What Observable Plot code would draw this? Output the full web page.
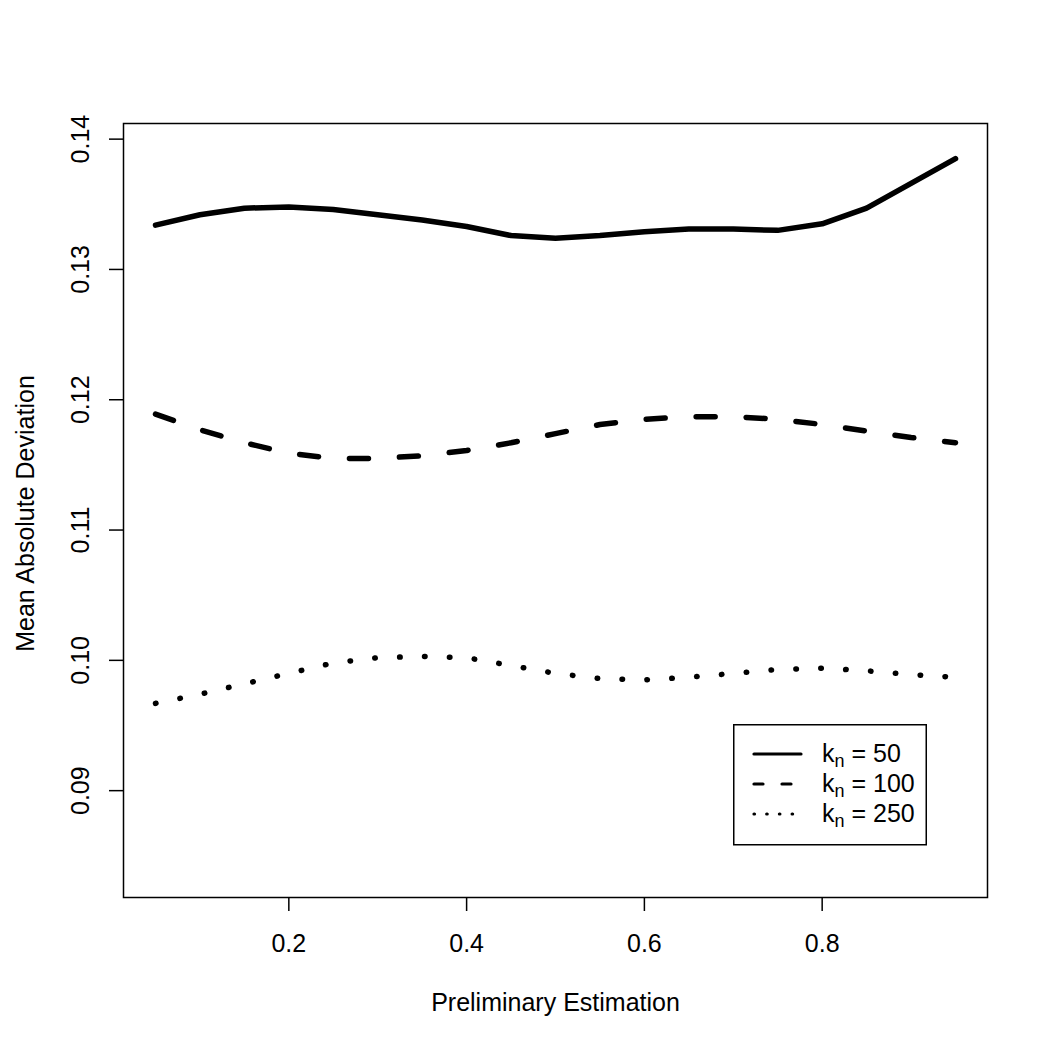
<!DOCTYPE html>
<html>
<head>
<meta charset="utf-8">
<script src="https://cdn.jsdelivr.net/npm/d3@7"></script>
<script src="https://cdn.jsdelivr.net/npm/@observablehq/plot@0.6"></script>
<style>
  html, body { margin: 0; padding: 0; background: #fff; }
  #wrap { position: relative; width: 1050px; height: 1050px; font-family: "Liberation Sans", Arial, Helvetica, sans-serif; }
  #legend { position: absolute; left: 733px; top: 724px; }
</style>
</head>
<body>
<div id="wrap"></div>
<script>
// Preliminary estimation grid
const estimation = [0.05, 0.10, 0.15, 0.20, 0.25, 0.30, 0.35, 0.40, 0.45, 0.50,
                    0.55, 0.60, 0.65, 0.70, 0.75, 0.80, 0.85, 0.90, 0.95];

// Mean absolute deviation for each k_n
const mad50  = [0.1334, 0.1342, 0.1347, 0.1348, 0.1346, 0.1342, 0.1338, 0.1333, 0.1326, 0.1324,
                0.1326, 0.1329, 0.1331, 0.1331, 0.1330, 0.1335, 0.1347, 0.1366, 0.1385];
const mad100 = [0.1189, 0.1177, 0.1167, 0.1159, 0.1155, 0.1155, 0.1157, 0.1161, 0.1167, 0.1174,
                0.1181, 0.1185, 0.1187, 0.1187, 0.1185, 0.1181, 0.1176, 0.1171, 0.1167];
const mad250 = [0.0967, 0.0974, 0.0982, 0.0990, 0.0998, 0.1002, 0.1003, 0.1002, 0.0996, 0.0990,
                0.0986, 0.0985, 0.0987, 0.0990, 0.0993, 0.0994, 0.0992, 0.0989, 0.0987];

const seriesNames = ["50", "100", "250"];
const xTicks = [0.2, 0.4, 0.6, 0.8];
const yTicks = [0.09, 0.10, 0.11, 0.12, 0.13, 0.14];
const xTitle = "Preliminary Estimation";
const yTitle = "Mean Absolute Deviation";

const font = '"Liberation Sans", Arial, Helvetica, sans-serif';
const fs = 25;

const toRows = (vals, k) => estimation.map((x, i) => ({x, y: vals[i], k}));
const rows50 = toRows(mad50, seriesNames[0]);
const rows100 = toRows(mad100, seriesNames[1]);
const rows250 = toRows(mad250, seriesNames[2]);

const lineBase = {x: "x", y: "y", stroke: "black", strokeWidth: 5.5,
                  strokeLinecap: "round", strokeLinejoin: "round"};

const chart = Plot.plot({
  width: 1050,
  height: 1050,
  marginLeft: 123,
  marginRight: 63,
  marginTop: 123,
  marginBottom: 153,
  style: {fontFamily: font, fontSize: fs + "px", color: "black", background: "white"},
  x: {domain: [0.014, 0.986]},
  y: {domain: [0.0818, 0.1412]},
  marks: [
    Plot.frame({stroke: "black", strokeWidth: 1.5}),
    Plot.axisX({ticks: xTicks, tickSize: 14, tickPadding: 23, tickFormat: d => d3.format(".1f")(d),
                fontSize: fs, label: null, strokeWidth: 1.5}),
    Plot.axisY({ticks: yTicks, tickSize: 14, tickFormat: () => "", label: null, strokeWidth: 1.5}),
    Plot.text(yTicks, {y: d => d, frameAnchor: "left", textAnchor: "middle", dx: -43, rotate: -90,
                       text: d => d3.format(".2f")(d), fontSize: fs, fill: "black"}),
    Plot.text([xTitle], {frameAnchor: "bottom", textAnchor: "middle", dy: 113, text: d => d,
                         fontSize: fs, fill: "black"}),
    Plot.text([yTitle], {frameAnchor: "left", textAnchor: "middle", dx: -98, dy: 3, rotate: -90, text: d => d,
                         fontSize: fs, fill: "black"}),
    Plot.line(rows50, {...lineBase}),
    Plot.line(rows100, {...lineBase, strokeDasharray: "19,31"}),
    Plot.line(rows250, {...lineBase, strokeDasharray: "0.5,24.4"})
  ]
});

const wrap = document.getElementById("wrap");
wrap.appendChild(chart);

// Legend box inside the plotting region
const legendStyles = [
  {dash: null},
  {dash: "9,19"},
  {dash: "0.5,12.2"}
];
const ns = "http://www.w3.org/2000/svg";
const leg = document.createElementNS(ns, "svg");
leg.setAttribute("id", "legend");
leg.setAttribute("width", 194);
leg.setAttribute("height", 122);
const box = document.createElementNS(ns, "rect");
box.setAttribute("x", 0.75); box.setAttribute("y", 0.75);
box.setAttribute("width", 192.5); box.setAttribute("height", 120);
box.setAttribute("fill", "white"); box.setAttribute("stroke", "black"); box.setAttribute("stroke-width", 1.5);
leg.appendChild(box);
seriesNames.forEach((name, i) => {
  const cy = 30 + i * 30;
  const ln = document.createElementNS(ns, "line");
  ln.setAttribute("x1", 21); ln.setAttribute("x2", 68);
  ln.setAttribute("y1", cy); ln.setAttribute("y2", cy);
  ln.setAttribute("stroke", "black"); ln.setAttribute("stroke-width", 3.2);
  ln.setAttribute("stroke-linecap", "round");
  if (legendStyles[i].dash) ln.setAttribute("stroke-dasharray", legendStyles[i].dash);
  leg.appendChild(ln);
  const t = document.createElementNS(ns, "text");
  t.setAttribute("x", 89); t.setAttribute("y", cy + 8);
  t.setAttribute("font-family", font); t.setAttribute("font-size", fs); t.setAttribute("fill", "black");
  const k = document.createElementNS(ns, "tspan"); k.textContent = "k";
  const sub = document.createElementNS(ns, "tspan"); sub.textContent = "n";
  sub.setAttribute("font-size", 18); sub.setAttribute("dy", 5);
  const rest = document.createElementNS(ns, "tspan"); rest.textContent = " = " + name;
  rest.setAttribute("dy", -5);
  t.appendChild(k); t.appendChild(sub); t.appendChild(rest);
  leg.appendChild(t);
});
wrap.appendChild(leg);
</script>
</body>
</html>
